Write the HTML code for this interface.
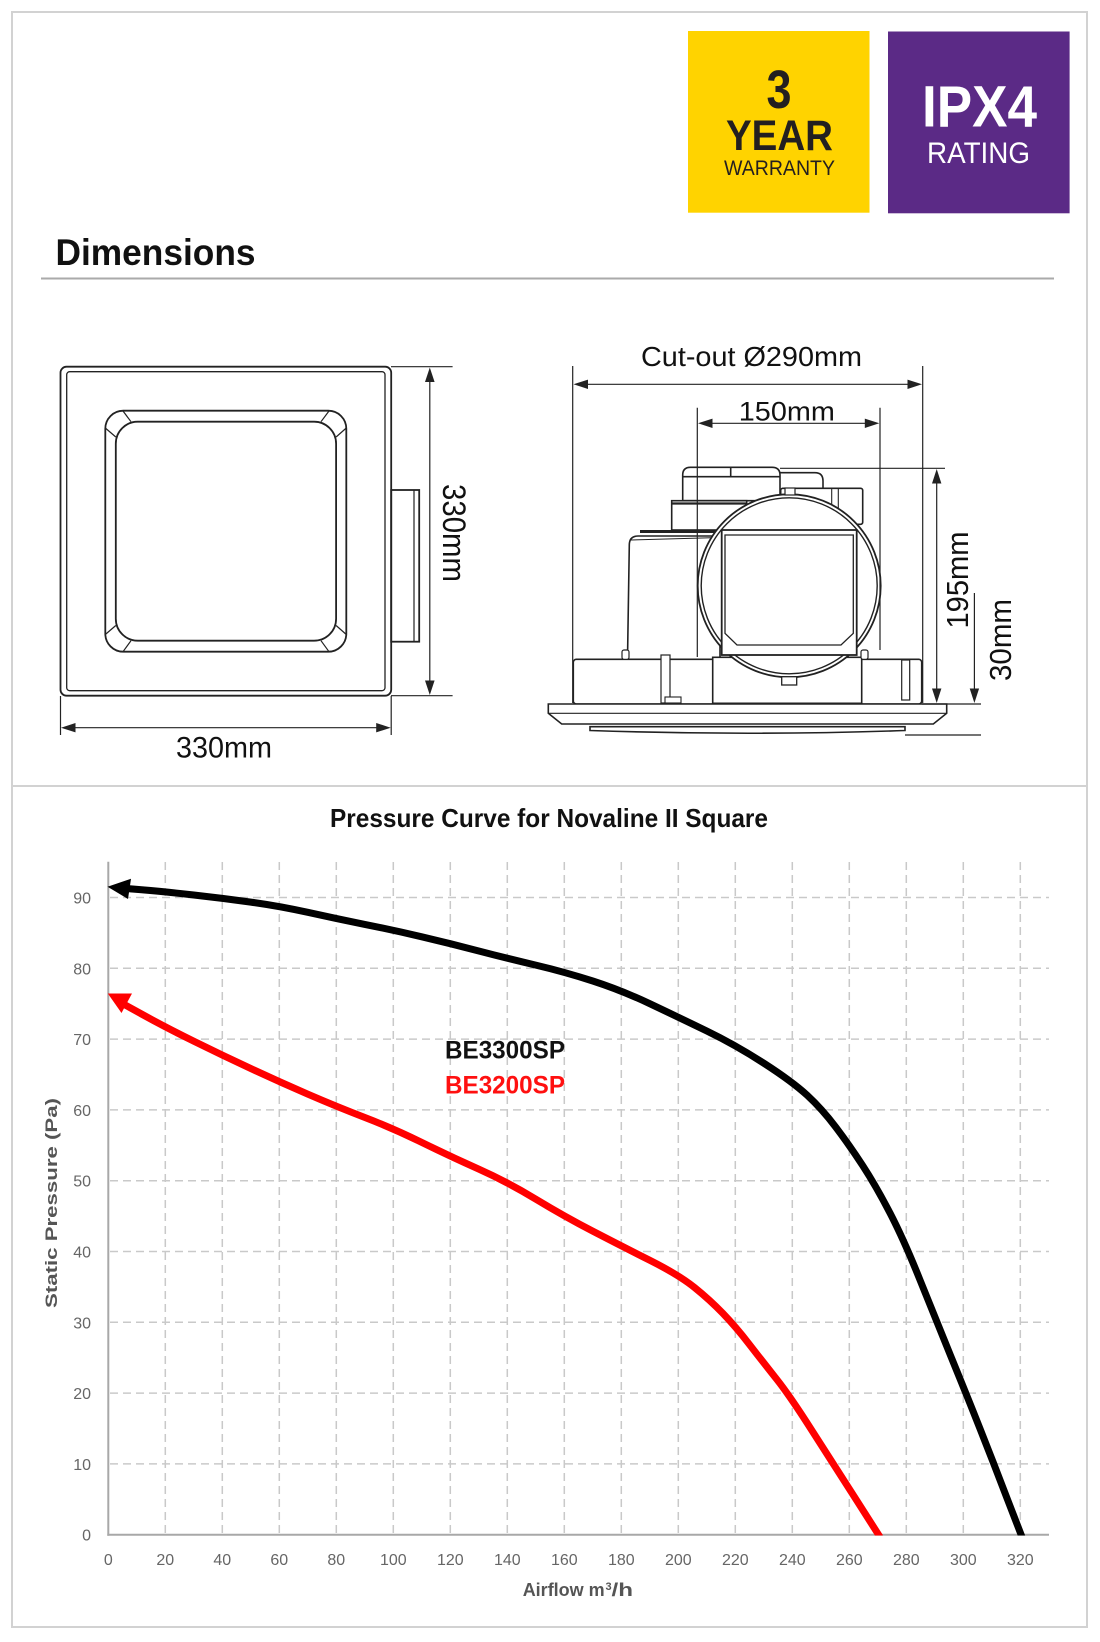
<!DOCTYPE html>
<html>
<head>
<meta charset="utf-8">
<style>
html,body{margin:0;padding:0;background:#fff;}
svg{display:block;}
text{font-family:"Liberation Sans",Arial,sans-serif;}
</style>
</head>
<body>
<svg xmlns="http://www.w3.org/2000/svg" width="1100" height="1642" viewBox="0 0 1100 1642">
<rect x="0" y="0" width="1100" height="1642" fill="#fff"/>
<!-- frames -->
<rect x="12" y="12" width="1075" height="774" fill="none" stroke="#d2d2d2" stroke-width="2"/>
<rect x="12" y="786" width="1075" height="841" fill="none" stroke="#d2d2d2" stroke-width="2"/>

<!-- badges -->
<rect x="688" y="31" width="181.5" height="181.7" fill="#FFD300"/>
<text x="779" y="108" font-size="54" font-weight="bold" fill="#231f20" text-anchor="middle" textLength="25" lengthAdjust="spacingAndGlyphs">3</text>
<text x="779.5" y="150" font-size="43" font-weight="bold" fill="#231f20" text-anchor="middle" textLength="107" lengthAdjust="spacingAndGlyphs">YEAR</text>
<text x="779.5" y="175" font-size="21" fill="#231f20" text-anchor="middle" textLength="111" lengthAdjust="spacingAndGlyphs">WARRANTY</text>

<rect x="888" y="31.5" width="181.6" height="181.8" fill="#5B2A86"/>
<text x="979.5" y="126.7" font-size="58" font-weight="bold" fill="#fff" text-anchor="middle" textLength="115" lengthAdjust="spacingAndGlyphs">IPX4</text>
<text x="978.5" y="163" font-size="30" fill="#fff" text-anchor="middle" textLength="103" lengthAdjust="spacingAndGlyphs">RATING</text>

<!-- Dimensions heading -->
<text x="55.5" y="265" font-size="37" font-weight="bold" fill="#111" textLength="200" lengthAdjust="spacingAndGlyphs">Dimensions</text>
<line x1="41" y1="278.5" x2="1054" y2="278.5" stroke="#aaa" stroke-width="2"/>

<!-- LEFT DRAWING -->
<g fill="none" stroke="#222" stroke-width="1.8">
  <rect x="60.5" y="366.7" width="330.7" height="329" rx="6"/>
  <rect x="66.7" y="371.7" width="318.3" height="319" rx="3" stroke-width="1.3"/>
  <rect x="105.3" y="410.7" width="241" height="241" rx="18"/>
  <rect x="115.8" y="421.7" width="220.3" height="219" rx="22"/>
  <g stroke-width="1.2">
    <line x1="123" y1="411" x2="131" y2="421.7"/>
    <line x1="105.3" y1="428" x2="115.8" y2="437"/>
    <line x1="329" y1="411" x2="321" y2="421.7"/>
    <line x1="346.3" y1="428" x2="336.1" y2="437"/>
    <line x1="123" y1="651.7" x2="131" y2="640.7"/>
    <line x1="105.3" y1="634.5" x2="115.8" y2="625.5"/>
    <line x1="329" y1="651.7" x2="321" y2="640.7"/>
    <line x1="346.3" y1="634.5" x2="336.1" y2="625.5"/>
  </g>
  <rect x="391.2" y="490" width="28" height="151.7"/>
  <line x1="414" y1="490" x2="414" y2="641.7" stroke-width="1.2"/>
</g>
<g stroke="#222" stroke-width="1.2">
  <line x1="391" y1="366.7" x2="452.6" y2="366.7"/>
  <line x1="391" y1="695.7" x2="452.6" y2="695.7"/>
  <line x1="429.8" y1="372" x2="429.8" y2="690"/>
  <line x1="60.5" y1="696" x2="60.5" y2="735"/>
  <line x1="391.2" y1="696" x2="391.2" y2="735"/>
  <line x1="66" y1="727.7" x2="386" y2="727.7"/>
</g>
<g fill="#222">
  <polygon points="429.8,367.5 425,382 434.6,382"/>
  <polygon points="429.8,695 425,680.5 434.6,680.5"/>
  <polygon points="61,727.7 75.5,723 75.5,732.4"/>
  <polygon points="390.7,727.7 376.2,723 376.2,732.4"/>
</g>
<text x="224" y="757.5" font-size="30" fill="#111" text-anchor="middle" textLength="96" lengthAdjust="spacingAndGlyphs">330mm</text>
<text transform="translate(443,533) rotate(90)" x="0" y="0" font-size="32" fill="#111" text-anchor="middle" textLength="98" lengthAdjust="spacingAndGlyphs">330mm</text>

<!-- RIGHT DRAWING -->
<g fill="#fff" stroke="#222" stroke-width="1.6">
  <path d="M682.7,500.7 L682.7,475 Q682.7,467.3 690.5,467.3 L772,467.3 Q780,467.3 780,475 L780,500.7 Z"/>
  <line x1="682.7" y1="476.7" x2="780" y2="476.7"/>
  <line x1="730.7" y1="467.3" x2="730.7" y2="476.7"/>
  <path d="M780,472.7 L815,472.7 Q823,472.7 823,481 L823,488.3" fill="none"/>
  <rect x="780.7" y="488.3" width="82" height="36" rx="2"/>
  <line x1="831.7" y1="488.3" x2="831.7" y2="524.3" stroke-width="1.1"/>
  <line x1="838.3" y1="488.3" x2="838.3" y2="524.3" stroke-width="1.1"/>
  <rect x="671.7" y="500.7" width="75" height="29.3"/>
  <line x1="671.7" y1="503.5" x2="746.7" y2="503.5" stroke-width="2.2"/>
  <path d="M627.5,659.3 L629.3,545 Q629.3,536 638,536 L720,536 L720,659.3 Z"/>
  <line x1="640" y1="531.5" x2="720" y2="531.5" stroke-width="3"/>
  <line x1="631" y1="540" x2="720" y2="537.5" stroke-width="1"/>
  <rect x="573.3" y="659.3" width="348.4" height="44.7" rx="3"/>
  <rect x="712.7" y="657.3" width="149" height="46"/>
  <rect x="661" y="655" width="9" height="48" stroke-width="1.2"/>
  <rect x="622" y="650" width="7" height="9.3" rx="2" stroke-width="1.2"/>
  <rect x="861" y="650" width="7" height="9.3" rx="2" stroke-width="1.2"/>
  <rect x="901.7" y="660" width="8" height="40" stroke-width="1.2"/>
  <rect x="665" y="697" width="16" height="6" stroke-width="1.1"/>
  <path d="M548.3,704 L946.7,704 L946.7,713.3 L933.3,724 L561.7,724 L548.3,713.3 Z"/>
  <line x1="548.3" y1="713.3" x2="946.7" y2="713.3" stroke-width="1.2"/>
  <path d="M590,726.7 L905,726.7 L905,730.5 Q750,736 590,730.5 Z"/>
  <circle cx="789.2" cy="585.8" r="91.5" stroke-width="1.8"/>
  <circle cx="789.2" cy="585.8" r="88" fill="none" stroke-width="1.4"/>
  <rect x="721.7" y="530" width="135" height="125" stroke-width="1.8"/>
  <path d="M725,535 L853.3,535 L853.3,633.3 L841,645 L737,645 L725,633.3 Z" stroke-width="1.3"/>
  <rect x="781.7" y="676.7" width="15" height="8.3" stroke-width="1.3"/>
  <rect x="785" y="488" width="10" height="7" stroke-width="1.2"/>
</g>
<g stroke="#222" stroke-width="1.2">
  <line x1="572.7" y1="366" x2="572.7" y2="703"/>
  <line x1="922.7" y1="366" x2="922.7" y2="703"/>
  <line x1="578" y1="384.3" x2="917" y2="384.3"/>
  <line x1="697.3" y1="407.7" x2="697.3" y2="657"/>
  <line x1="880" y1="407.7" x2="880" y2="650"/>
  <line x1="703" y1="423.3" x2="874" y2="423.3"/>
  <line x1="780" y1="468.3" x2="945" y2="468.3"/>
  <line x1="936.7" y1="474" x2="936.7" y2="696"/>
  <line x1="974.4" y1="593" x2="974.4" y2="696"/>
  <line x1="922" y1="704" x2="981" y2="704"/>
  <line x1="905" y1="735" x2="981" y2="735"/>
</g>
<g fill="#222">
  <polygon points="573.5,384.3 588,379.6 588,389"/>
  <polygon points="922,384.3 907.5,379.6 907.5,389"/>
  <polygon points="698,423.3 712.5,418.6 712.5,428"/>
  <polygon points="879.3,423.3 864.8,418.6 864.8,428"/>
  <polygon points="936.7,469 932,483.5 941.4,483.5"/>
  <polygon points="936.7,703 932,688.5 941.4,688.5"/>
  <polygon points="974.4,703 969.7,688.5 979.1,688.5"/>
</g>
<text x="751.5" y="366" font-size="28" fill="#111" text-anchor="middle" textLength="221" lengthAdjust="spacingAndGlyphs">Cut-out Ø290mm</text>
<text x="786.8" y="420.7" font-size="27" fill="#111" text-anchor="middle" textLength="96" lengthAdjust="spacingAndGlyphs">150mm</text>
<text transform="translate(968,580) rotate(-90)" x="0" y="0" font-size="31" fill="#111" text-anchor="middle" textLength="97" lengthAdjust="spacingAndGlyphs">195mm</text>
<text transform="translate(1011,640) rotate(-90)" x="0" y="0" font-size="31" fill="#111" text-anchor="middle" textLength="82" lengthAdjust="spacingAndGlyphs">30mm</text>

<!-- CHART -->
<text x="549" y="827" font-size="26" font-weight="bold" fill="#111" text-anchor="middle" textLength="438" lengthAdjust="spacingAndGlyphs">Pressure Curve for Novaline II Square</text>

<g stroke="#c9c9c9" stroke-width="1.5" stroke-dasharray="8,5" fill="none">
  <line x1="110" y1="1463.9" x2="1049" y2="1463.9"/>
  <line x1="110" y1="1393.1" x2="1049" y2="1393.1"/>
  <line x1="110" y1="1322.3" x2="1049" y2="1322.3"/>
  <line x1="110" y1="1251.5" x2="1049" y2="1251.5"/>
  <line x1="110" y1="1180.7" x2="1049" y2="1180.7"/>
  <line x1="110" y1="1109.9" x2="1049" y2="1109.9"/>
  <line x1="110" y1="1039.1" x2="1049" y2="1039.1"/>
  <line x1="110" y1="968.3" x2="1049" y2="968.3"/>
  <line x1="110" y1="897.5" x2="1049" y2="897.5"/>
  <line x1="165.3" y1="862" x2="165.3" y2="1534"/>
  <line x1="222.3" y1="862" x2="222.3" y2="1534"/>
  <line x1="279.3" y1="862" x2="279.3" y2="1534"/>
  <line x1="336.3" y1="862" x2="336.3" y2="1534"/>
  <line x1="393.3" y1="862" x2="393.3" y2="1534"/>
  <line x1="450.3" y1="862" x2="450.3" y2="1534"/>
  <line x1="507.3" y1="862" x2="507.3" y2="1534"/>
  <line x1="564.3" y1="862" x2="564.3" y2="1534"/>
  <line x1="621.3" y1="862" x2="621.3" y2="1534"/>
  <line x1="678.3" y1="862" x2="678.3" y2="1534"/>
  <line x1="735.3" y1="862" x2="735.3" y2="1534"/>
  <line x1="792.3" y1="862" x2="792.3" y2="1534"/>
  <line x1="849.3" y1="862" x2="849.3" y2="1534"/>
  <line x1="906.3" y1="862" x2="906.3" y2="1534"/>
  <line x1="963.3" y1="862" x2="963.3" y2="1534"/>
  <line x1="1020.3" y1="862" x2="1020.3" y2="1534"/>
</g>
<line x1="108.3" y1="861.7" x2="108.3" y2="1535.7" stroke="#a8a8a8" stroke-width="2"/>
<line x1="107.3" y1="1534.7" x2="1049" y2="1534.7" stroke="#a8a8a8" stroke-width="2"/>

<g font-size="16" fill="#666" text-anchor="end">
  <text x="91" y="1540.7">0</text>
  <text x="91" y="1469.9">10</text>
  <text x="91" y="1399.1">20</text>
  <text x="91" y="1328.3">30</text>
  <text x="91" y="1257.5">40</text>
  <text x="91" y="1186.7">50</text>
  <text x="91" y="1115.9">60</text>
  <text x="91" y="1045.1">70</text>
  <text x="91" y="974.3">80</text>
  <text x="91" y="903.5">90</text>
</g>
<g font-size="16" fill="#666" text-anchor="middle">
  <text x="108.3" y="1565">0</text>
  <text x="165.3" y="1565">20</text>
  <text x="222.3" y="1565">40</text>
  <text x="279.3" y="1565">60</text>
  <text x="336.3" y="1565">80</text>
  <text x="393.3" y="1565">100</text>
  <text x="450.3" y="1565">120</text>
  <text x="507.3" y="1565">140</text>
  <text x="564.3" y="1565">160</text>
  <text x="621.3" y="1565">180</text>
  <text x="678.3" y="1565">200</text>
  <text x="735.3" y="1565">220</text>
  <text x="792.3" y="1565">240</text>
  <text x="849.3" y="1565">260</text>
  <text x="906.3" y="1565">280</text>
  <text x="963.3" y="1565">300</text>
  <text x="1020.3" y="1565">320</text>
</g>

<text transform="translate(57,1203) rotate(-90)" x="0" y="0" font-size="17" font-weight="bold" fill="#555" text-anchor="middle" textLength="210" lengthAdjust="spacingAndGlyphs">Static Pressure (Pa)</text>
<text x="522.7" y="1596" font-size="18" font-weight="bold" fill="#555" textLength="82" lengthAdjust="spacingAndGlyphs">Airflow m</text>
<text x="605.5" y="1590" font-size="11" font-weight="bold" fill="#555">3</text>
<text x="611.5" y="1596" font-size="18" font-weight="bold" fill="#555" textLength="21.5" lengthAdjust="spacingAndGlyphs">/h</text>

<text x="445" y="1058.3" font-size="25" font-weight="bold" fill="#111" textLength="120" lengthAdjust="spacingAndGlyphs">BE3300SP</text>
<text x="445" y="1093.3" font-size="25" font-weight="bold" fill="#ff1010" textLength="120" lengthAdjust="spacingAndGlyphs">BE3200SP</text>

<defs>
  <clipPath id="plotclip"><rect x="100" y="850" width="960" height="685.5"/></clipPath>
</defs>
<g clip-path="url(#plotclip)" fill="none" stroke-width="7" stroke-linejoin="round">
  <path stroke="#000" d="M118,887.8 L141.65,889.8 Q165.3,891.8 193.8,895 Q222.3,898.2 250.8,902.1 Q279.3,906 307.8,912.35 Q336.3,918.7 364.8,924.4 Q393.3,930.1 421.8,936.8 Q450.3,943.5 478.8,950.95 Q507.3,958.4 535.8,965.1 Q564.3,971.8 592.8,981 Q621.3,990.2 649.8,1003.7 Q678.3,1017.2 706.8,1031 Q735.3,1044.8 763.9,1063.25 Q792.5,1081.7 807.25,1095.35 Q822,1109 835.65,1127 Q849.3,1145 862.65,1165.5 Q876,1186 890,1213 Q904,1240 920,1280 Q936,1320 951,1356.65 Q966,1393.3 980,1428.65 Q994,1464 1007.5,1499.5 L1022,1537"/>
  <path stroke="#ff0000" d="M118,1001 L141.5,1014 Q165,1027 193.9,1041.25 Q222.8,1055.5 250.9,1068.6 Q279,1081.7 307.9,1094.2 Q336.8,1106.7 364.9,1117.5 Q393,1128.3 421.95,1142.5 Q450.9,1156.7 478.95,1169.2 Q507,1181.7 535.95,1199.2 Q564.9,1216.7 593.2,1231.35 Q621.5,1246 650.25,1260.5 Q679,1275 694.5,1287.5 Q710,1300 722.85,1313.35 Q735.7,1326.7 749.35,1344.35 Q763,1362 776.5,1379 Q790,1396 812.25,1431 Q834.5,1466 856.75,1500.5 L880,1537"/>
</g>
<polygon points="107.5,886.7 131,878.8 128,899" fill="#000"/>
<polygon points="107.8,993.5 132,993.5 121.5,1013" fill="#ff0000"/>
</svg>
</body>
</html>
